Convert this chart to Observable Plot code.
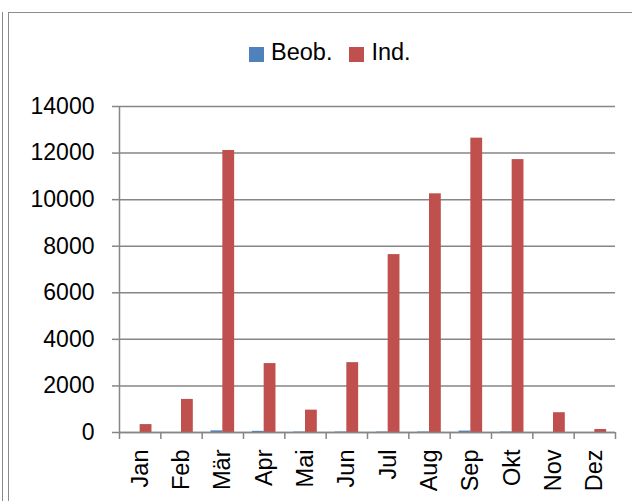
<!DOCTYPE html>
<html>
<head>
<meta charset="utf-8">
<script src="https://cdn.jsdelivr.net/npm/d3@7"></script>
<script src="https://cdn.jsdelivr.net/npm/@observablehq/plot@0.6"></script>
<style>
  html, body { margin: 0; padding: 0; background: #fff; overflow: hidden; }
  #wrap { position: relative; width: 632px; height: 501px; font-family: "Liberation Sans", Arial, sans-serif; }
  #frame { position: absolute; left: 8px; top: 12px; width: 700px; height: 600px; border-left: 1px solid #8c8c8c; border-top: 1px solid #8c8c8c; }
  #outer { position: absolute; left: 2px; top: 12px; width: 1px; height: 600px; background: #8c8c8c; }
  #legend { position: absolute; left: 249px; top: 39px; display: flex; align-items: center; font-size: 23.5px; color: #000; }
  #legend .item { display: flex; align-items: center; margin-right: 17px; }
  #legend .sw { width: 15px; height: 15px; margin-right: 7px; margin-top: 3px; }
  #chart { position: absolute; left: 0; top: 0; }
</style>
</head>
<body>
<div id="wrap">
  <div id="frame"></div>
  <div id="outer"></div>
  <div id="chart"></div>
  <div id="legend"></div>
</div>
<script>
const months = ["Jan", "Feb", "Mär", "Apr", "Mai", "Jun", "Jul", "Aug", "Sep", "Okt", "Nov", "Dez"];
const series = ["Beob.", "Ind."];
const colors = ["#4F81BD", "#C0504D"];
const beob = [0, 0, 70, 50, 20, 20, 20, 20, 60, 20, 0, 0];
const ind = [340, 1420, 12110, 2960, 960, 3000, 7640, 10250, 12640, 11720, 850, 130];
const yTicks = [0, 2000, 4000, 6000, 8000, 10000, 12000, 14000];

const gapWidth = 1.5; // Excel gap width 150%
const barW = 1 / (series.length + gapWidth);

const data = [];
months.forEach((m, i) => {
  data.push({month: m, i, series: series[0], value: beob[i], k: 0});
  data.push({month: m, i, series: series[1], value: ind[i], k: 1});
});

const start = (gapWidth * barW) / 2;
const gray = "#868686";

const plot = Plot.plot({
  width: 632,
  height: 501,
  marginLeft: 119,
  marginRight: 17,
  marginTop: 106,
  marginBottom: 69,
  style: {fontFamily: '"Liberation Sans", Arial, sans-serif', fontSize: "23px", color: "#000", background: "transparent"},
  x: {type: "linear", domain: [0, months.length], axis: null},
  y: {domain: [0, 14000], axis: null},
  color: {domain: series, range: colors},
  marks: [
    Plot.gridY(yTicks, {stroke: gray, strokeOpacity: 1, strokeWidth: 1.5}),
    Plot.rect(data, {
      x1: d => d.i + start + d.k * barW,
      x2: d => d.i + start + (d.k + 1) * barW,
      y1: 0,
      y2: "value",
      fill: "series"
    }),
    Plot.ruleX([0], {y1: 0, y2: 14000, stroke: gray, strokeWidth: 1.5}),
    Plot.ruleY([0], {stroke: gray, strokeWidth: 1.5}),
    Plot.axisY({ticks: yTicks, tickSize: 7, tickPadding: 18, stroke: gray, strokeWidth: 1.5, tickFormat: d3.format("d"), fill: "#000", fontSize: 23, label: null}),
    Plot.axisX({ticks: d3.range(months.length + 1), tickSize: 7, stroke: gray, strokeWidth: 1.5, tickFormat: () => "", label: null}),
    Plot.axisX({ticks: d3.range(months.length).map(i => i + 0.5), tickSize: 0, tickPadding: 17, tickRotate: -90, tickFormat: d => months[Math.floor(d)], fill: "#000", fontSize: 23.5, label: null})
  ]
});

document.getElementById("chart").appendChild(plot);

const cs = plot.scale("color");
const legend = document.getElementById("legend");
cs.domain.forEach((s, j) => {
  const item = document.createElement("div");
  item.className = "item";
  const sw = document.createElement("span");
  sw.className = "sw";
  sw.style.background = cs.range[j];
  const t = document.createElement("span");
  t.textContent = s;
  item.appendChild(sw);
  item.appendChild(t);
  legend.appendChild(item);
});
</script>
</body>
</html>
